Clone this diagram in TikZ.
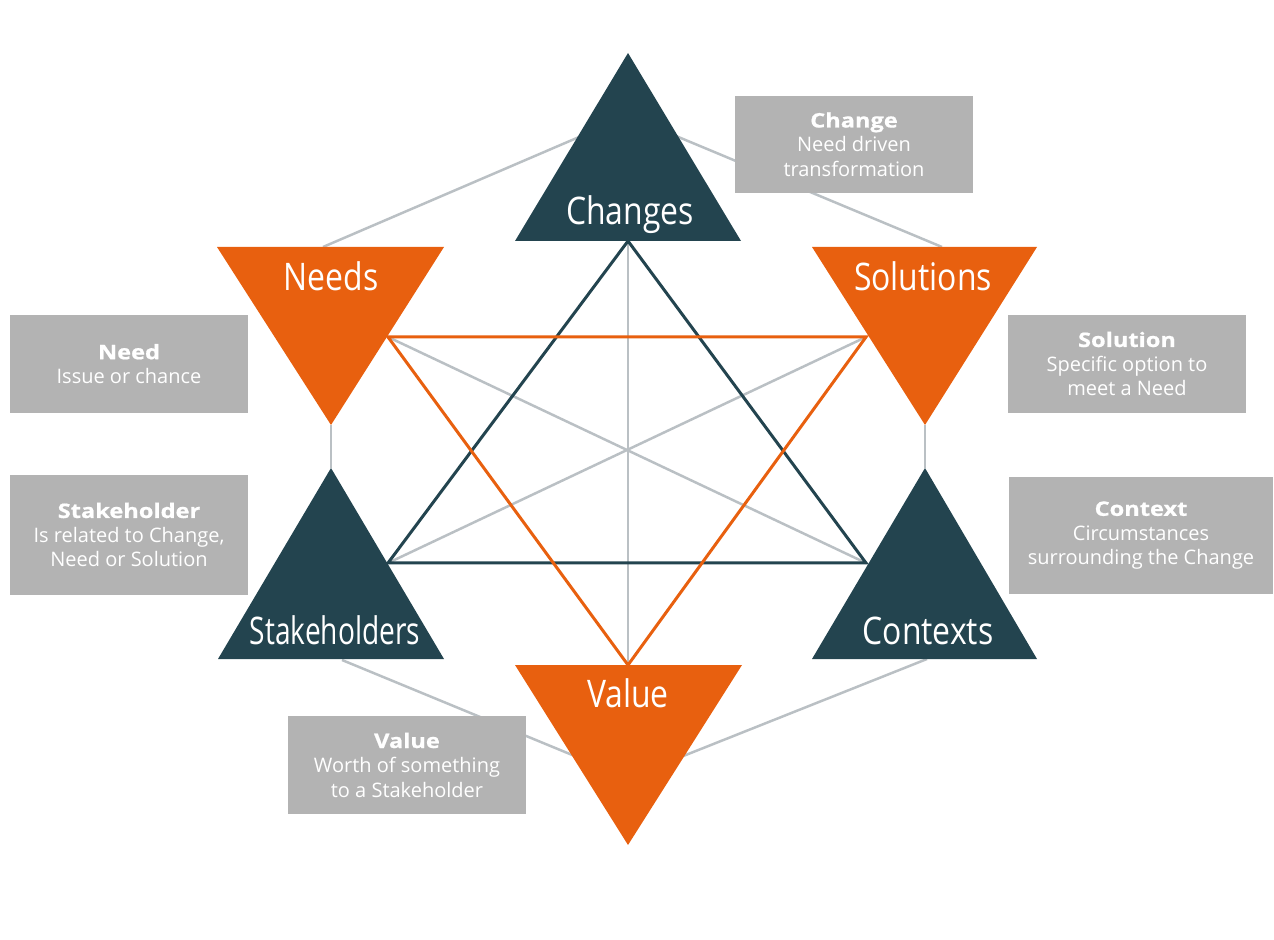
\documentclass[tikz,border=0pt]{standalone}
\usepackage{fontspec}
\setmainfont{Open Sans}
\newfontfamily\trifont[FakeStretch=0.84]{Open Sans}
\newfontfamily\trifontn[FakeStretch=0.74]{Open Sans}
\newfontfamily\titlefont[FakeStretch=1.18,FakeBold=0.8,UprightFont=* Bold]{Open Sans}
\definecolor{darkteal}{HTML}{23444F}
\definecolor{orng}{HTML}{E8600F}
\definecolor{boxgray}{HTML}{B3B3B3}
\definecolor{linegray}{HTML}{BAC0C4}
\newcommand{\boxtitle}[1]{{\titlefont #1}}
\begin{document}
\begin{tikzpicture}[x=0.5pt,y=-0.5pt,
  trilabel/.style={font=\trifont\fontsize{19}{19}\selectfont, text=white, anchor=base, inner sep=0pt},
  info/.style={fill=boxgray, text=white, align=center, inner sep=0pt, minimum width=119pt,
    font=\fontsize{10}{12.25}\selectfont},
  glink/.style={draw=linegray, line width=1.25pt},
  dlink/.style={draw=darkteal, line width=1.5pt},
  olink/.style={draw=orng, line width=1.5pt},
  darktri/.style={fill=darkteal},
  orangetri/.style={fill=orng}]
\useasboundingbox (0,0) rectangle (1274,940);
% triangle vertices
\coordinate (chA) at (628,53);  \coordinate (chL) at (515,241); \coordinate (chR) at (741,241);
\coordinate (ndL) at (217,247); \coordinate (ndR) at (444,247); \coordinate (ndA) at (331,425);
\coordinate (soL) at (812,247); \coordinate (soR) at (1037,247); \coordinate (soA) at (925,425);
\coordinate (shA) at (331,468); \coordinate (shL) at (218,659); \coordinate (shR) at (444,659);
\coordinate (coA) at (925,468); \coordinate (coL) at (812,659); \coordinate (coR) at (1037,659);
\coordinate (vaL) at (515,665); \coordinate (vaR) at (742,665); \coordinate (vaA) at (628,845);
% inner star vertices
\coordinate (chB) at (628,241);
\coordinate (ndP) at (388,337);
\coordinate (soP) at (866,337);
\coordinate (shP) at (388,563);
\coordinate (coP) at (866,563);
\coordinate (vaT) at (628,665);
% outer frame points
\coordinate (hTop) at (628,116);
\coordinate (hNd) at (323,247);
\coordinate (hSo) at (942,247);
\coordinate (hSh) at (342,660);
\coordinate (hCo) at (927,659);
\coordinate (hBot) at (628,778);
% outer gray frame
\draw[glink] (hNd) -- (hTop) -- (hSo);
\draw[glink] (hSh) -- (hBot) -- (hCo);
\draw[glink] (ndA) -- (shA);
\draw[glink] (soA) -- (coA);
% info boxes
\node[info, minimum height=48.5pt] (chbox) at (854,144.5) {\boxtitle{Change}\\Need driven\\transformation};
\node[info, minimum height=49pt] (ndbox) at (129,364) {\boxtitle{Need}\\Issue or chance};
\node[info, minimum height=60pt] (shbox) at (129,535) {\boxtitle{Stakeholder}\\Is related to Change,\\Need or Solution};
\node[info, minimum height=49pt] (sobox) at (1127,364) {\boxtitle{Solution}\\Specific option to\\meet a Need};
\node[info, minimum height=58.5pt, minimum width=132pt] (cobox) at (1141,535.5) {\boxtitle{Context}\\Circumstances\\surrounding the Change};
\node[info, minimum height=49pt] (vabox) at (407,765) {\boxtitle{Value}\\Worth of something\\to a Stakeholder};
% inner gray lines
\draw[glink] (chB) -- (vaT);
\draw[glink] (ndP) -- (coP);
\draw[glink] (soP) -- (shP);
% dark and orange triangles
\draw[dlink, line join=miter] (chB) -- (shP) -- (coP) -- cycle;
\draw[olink, line join=miter] (ndP) -- (soP) -- (vaT) -- cycle;
% big triangles
\fill[darktri] (chA) -- (chL) -- (chR) -- cycle;
\fill[orangetri] (ndL) -- (ndR) -- (ndA) -- cycle;
\fill[orangetri] (soL) -- (soR) -- (soA) -- cycle;
\fill[darktri] (shA) -- (shL) -- (shR) -- cycle;
\fill[darktri] (coA) -- (coL) -- (coR) -- cycle;
\fill[orangetri] (vaL) -- (vaR) -- (vaA) -- cycle;
% labels
\node[trilabel] (chlab) at (630,225) {Changes};
\node[trilabel] (ndlab) at (331,291) {Needs};
\node[trilabel] (solab) at (923,291) {Solutions};
\node[trilabel, font=\trifontn\fontsize{19}{19}\selectfont] (shlab) at (335,644) {Stakeholders};
\node[trilabel] (colab) at (928,645) {Contexts};
\node[trilabel] (valab) at (628,707) {Value};
\end{tikzpicture}
\end{document}
